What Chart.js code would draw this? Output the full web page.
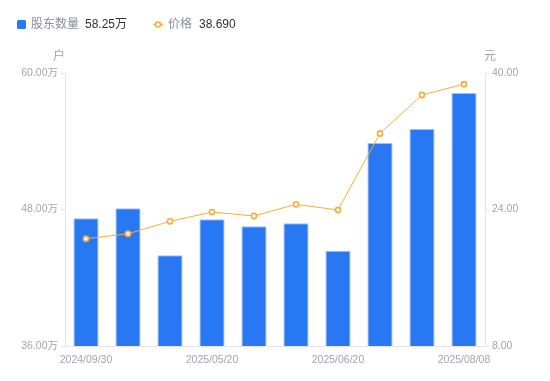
<!DOCTYPE html>
<html>
<head>
<meta charset="utf-8">
<script src="https://cdn.jsdelivr.net/npm/chart.js@4/dist/chart.umd.min.js"></script>
<style>
  html, body { margin: 0; padding: 0; background: #fff; }
  #wrap { width: 550px; height: 381px; position: relative; }
</style>
</head>
<body>
<div id="wrap"><canvas id="holderChart"></canvas></div>
<script>
// Data
const dates = ['2024/09/30', '2024/12/31', '2025/03/31', '2025/05/20', '2025/05/30',
    '2025/06/10', '2025/06/20', '2025/06/30', '2025/07/20', '2025/08/08'];
const holders = [47.23, 48.10, 43.97, 47.14, 46.52, 46.79, 44.38, 53.85, 55.08, 58.25]; // 万户
const prices = [20.58, 21.16, 22.61, 23.70, 23.24, 24.61, 23.94, 32.91, 37.42, 38.69]; // 元
const leftTicks = [36, 48, 60];
const rightTicks = [8, 24, 40];

const FONT = '"Liberation Sans", "Noto Sans CJK SC", sans-serif';
const BLUE = '#2878f4';
const ORANGE = '#f6ad3a';
const TICK_GRAY = '#a2a4b3';
const AXIS_GRAY = '#e3e4e8';

// Legend + unit labels drawn on the canvas
const extrasPlugin = {
    id: 'extras',
    afterDraw(chart) {
        const c = chart.ctx;
        c.save();
        c.textBaseline = 'middle';
        c.font = '12px ' + FONT;

        // holders legend
        c.fillStyle = BLUE;
        c.beginPath();
        c.roundRect(17, 20, 9, 9, 1.5);
        c.fill();
        c.fillStyle = '#8a8c99';
        c.fillText('股东数量', 31, 25);
        c.fillStyle = '#333';
        c.fillText(holders[holders.length - 1].toFixed(2) + '万', 85, 25);

        // price legend
        c.strokeStyle = ORANGE;
        c.lineWidth = 1.5;
        c.beginPath();
        c.moveTo(153, 24.5);
        c.lineTo(163, 24.5);
        c.stroke();
        c.fillStyle = '#fff';
        c.beginPath();
        c.arc(158, 24.5, 2.5, 0, Math.PI * 2);
        c.fill();
        c.stroke();
        c.fillStyle = '#8a8c99';
        c.fillText('价格', 168, 25);
        c.fillStyle = '#333';
        c.fillText(prices[prices.length - 1].toFixed(3), 199, 25);

        // axis units
        c.font = '12px ' + FONT;
        c.fillStyle = TICK_GRAY;
        c.textAlign = 'center';
        c.fillText('户', 59, 57);
        c.fillText('元', 490, 57);
        c.restore();
    }
};

new Chart(document.getElementById('holderChart'), {
    data: {
        labels: dates,
        datasets: [{
            type: 'line',
            label: '价格',
            data: prices,
            yAxisID: 'yPrice',
            borderColor: ORANGE,
            borderWidth: 1,
            pointRadius: 2.6,
            pointBorderWidth: 1.6,
            pointBackgroundColor: '#fff',
            pointBorderColor: ORANGE,
            tension: 0,
            order: 0
        }, {
            type: 'bar',
            label: '股东数量',
            data: holders,
            yAxisID: 'yHolders',
            backgroundColor: BLUE,
            borderColor: '#9cc2fb',
            borderWidth: { top: 1, left: 1, right: 1, bottom: 0 },
            barPercentage: 0.6,
            categoryPercentage: 1.0,
            order: 1
        }]
    },
    options: {
        responsive: true,
        maintainAspectRatio: false,
        animation: false,
        layout: {
            padding: { top: 73, left: 0, right: 0, bottom: 0 }
        },
        plugins: {
            legend: { display: false },
            tooltip: { enabled: false }
        },
        scales: {
            x: {
                offset: true,
                grid: { display: false },
                border: { display: true, color: AXIS_GRAY },
                ticks: {
                    autoSkip: false,
                    maxRotation: 0,
                    color: TICK_GRAY,
                    font: { family: FONT, size: 10.5 },
                    padding: 0,
                    callback: function (val, i) {
                        return i % 3 === 0 ? dates[i] : '';
                    }
                },
                afterFit: function (scale) { scale.height = 35; }
            },
            yHolders: {
                position: 'left',
                min: leftTicks[0],
                max: leftTicks[leftTicks.length - 1],
                afterBuildTicks: function (scale) {
                    scale.ticks = leftTicks.map(v => ({ value: v }));
                },
                grid: { drawOnChartArea: false, color: AXIS_GRAY, tickLength: 4 },
                border: { color: AXIS_GRAY },
                ticks: {
                    color: TICK_GRAY,
                    font: { family: FONT, size: 10.5 },
                    padding: 3,
                    callback: v => v.toFixed(2) + '万'
                },
                afterFit: function (scale) { scale.width = 65; }
            },
            yPrice: {
                position: 'right',
                min: rightTicks[0],
                max: rightTicks[rightTicks.length - 1],
                afterBuildTicks: function (scale) {
                    scale.ticks = rightTicks.map(v => ({ value: v }));
                },
                grid: { drawOnChartArea: false, color: AXIS_GRAY, tickLength: 4 },
                border: { color: AXIS_GRAY },
                ticks: {
                    color: TICK_GRAY,
                    font: { family: FONT, size: 10.5 },
                    padding: 3,
                    callback: v => v.toFixed(2)
                },
                afterFit: function (scale) { scale.width = 65; }
            }
        }
    },
    plugins: [extrasPlugin]
});
</script>
</body>
</html>
